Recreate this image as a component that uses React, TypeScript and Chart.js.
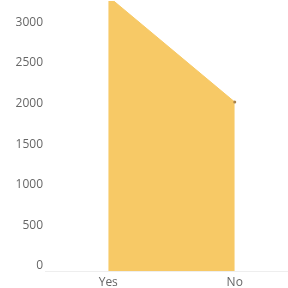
import React, { useEffect, useRef } from "react";
import { Chart, registerables } from "chart.js";

Chart.register(...registerables);

const categories = ["Yes", "No"];
const values = [3380, 2080];
const yTicks = [0, 500, 1000, 1500, 2000, 2500, 3000];

export default function App() {
  const ref = useRef<HTMLCanvasElement>(null);

  useEffect(() => {
    if (!ref.current) return;
    const chart = new Chart(ref.current, {
      type: "line",
      data: {
        labels: categories,
        datasets: [
          {
            data: values,
            fill: "origin",
            backgroundColor: "rgb(247, 201, 102)",
            borderColor: "rgb(247, 201, 102)",
            borderWidth: 1,
            tension: 0,
            pointRadius: 1.5,
            pointBorderWidth: 0,
            pointBackgroundColor: "#a8824a",
          },
        ],
      },
      options: {
        animation: false,
        responsive: false,
        devicePixelRatio: 1,
        layout: { padding: 0 },
        plugins: {
          legend: { display: false },
          tooltip: { enabled: false },
        },
        scales: {
          x: {
            offset: true,
            grid: { display: false, drawTicks: false },
            border: { display: true, color: "#eeeeee", width: 1 },
            ticks: {
              padding: 4,
              color: "#666666",
              font: { family: "'Open Sans'", size: 12 },
            },
            afterFit: (s: any) => {
              s.height = 18;
              s.paddingLeft = 0;
              s.paddingRight = 0;
              s.paddingTop = 0;
              s.paddingBottom = 0;
            },
          },
          y: {
            min: 0,
            max: 3324,
            grid: { display: false, drawTicks: false },
            border: { display: false },
            afterBuildTicks: (s: any) => {
              s.ticks = yTicks.map((v) => ({ value: v }));
            },
            ticks: {
              padding: 2,
              labelOffset: -5,
              color: "#666666",
              font: { family: "'Open Sans'", size: 12 },
              callback: (v: any) => String(v),
            },
            afterFit: (s: any) => {
              s.width = 45;
              s.paddingTop = 0;
              s.paddingBottom = 0;
              s.paddingLeft = 0;
              s.paddingRight = 0;
            },
          },
        },
      },
    });
    return () => chart.destroy();
  }, []);

  return (
    <div
      style={{
        position: "fixed",
        left: 0,
        top: 0,
        width: 288,
        height: 288,
        overflow: "hidden",
        background: "#fff",
      }}
    >
      <canvas
        ref={ref}
        width={302}
        height={292}
        style={{ display: "block", position: "absolute", left: 0, top: -3 }}
      />
    </div>
  );
}
